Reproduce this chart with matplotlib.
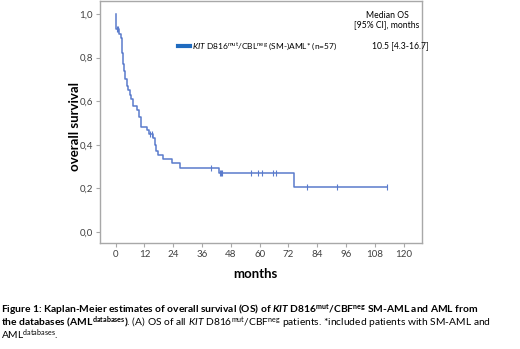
import numpy as np
import matplotlib
matplotlib.use('Agg')
import matplotlib.pyplot as plt
from matplotlib.lines import Line2D
from matplotlib.ticker import FuncFormatter

plt.rcParams['font.family'] = ['Lato', 'DejaVu Sans']
plt.rcParams['mathtext.fontset'] = 'custom'
plt.rcParams['mathtext.rm'] = 'Lato'
plt.rcParams['mathtext.it'] = 'Lato:italic'
plt.rcParams['mathtext.bf'] = 'Lato:bold'
plt.rcParams['mathtext.bfit'] = 'Lato:bold:italic'

# Kaplan-Meier curve: time (months) where survival steps to value
step_times = [0, 0.3, 1.5, 2.2, 2.6, 3.0, 3.5, 4.0, 4.6, 5.2, 5.8, 6.5, 7.2, 9.0,
              9.6, 10.5, 13.0, 14.0, 15.5, 16.3, 17.0, 17.7, 19.8, 23.6, 26.8,
              43.0, 74.3]
step_surv = [1.0, 0.93, 0.91, 0.89, 0.82, 0.77, 0.74, 0.70, 0.67, 0.65, 0.63,
             0.61, 0.58, 0.56, 0.53, 0.48, 0.47, 0.45, 0.43, 0.40, 0.37, 0.353,
             0.333, 0.315, 0.295, 0.272, 0.205]
end_time = 113.2
censor_times = [0.5, 1.2, 14.5, 15.0, 39.7, 43.5, 44.0, 44.4, 56.4, 59.4,
                60.8, 65.4, 66.7, 79.6, 92.0, 113.2]

x_ticks = list(range(0, 121, 12))
y_ticks = [0.0, 0.2, 0.4, 0.6, 0.8, 1.0]

W, H = 520, 349
fig = plt.figure(figsize=(W / 100, H / 100), dpi=100)
ax = fig.add_axes([100 / W, 1 - 243 / H, 322 / W, 242 / H])

curve_col = '#5a7bcc'
t = np.array(step_times + [end_time])
s = np.array(step_surv + [step_surv[-1]])
ax.step(t, s, where='post', color=curve_col, lw=1.1)

idx = np.searchsorted(step_times, censor_times, side='right') - 1
ax.plot(censor_times, np.array(step_surv)[idx], '|', color=curve_col, ms=5, mew=0.8)

ax.set_xlim(-6.5, 127.6)
ax.set_ylim(-0.05, 1.06)
ax.set_xticks(x_ticks)
ax.set_yticks(y_ticks)
ax.yaxis.set_major_formatter(FuncFormatter(lambda v, p: f'{v:.1f}'.replace('.', ',')))
for sp in ax.spines.values():
    sp.set_color('#a8a8a8')
    sp.set_linewidth(1.0)
ax.tick_params(length=3, width=0.8, color='#a8a8a8', labelsize=7, labelcolor='#404040', pad=2)

fig.text(75 / W, 1 - 127 / H, 'overall survival', rotation=90, ha='center', va='center',
         fontsize=9.5, fontweight='bold')
fig.text(255 / W, 1 - 274 / H, 'months', ha='center', va='center', fontsize=9.5, fontweight='bold')

# legend
fig.add_artist(Line2D([178 / W, 190 / W], [1 - 46 / H, 1 - 46 / H], color='#1f6bbf', lw=3,
                      transform=fig.transFigure))
fig.text(192 / W, 1 - 48.5 / H,
         r'$\mathit{KIT}$ D816$^{\mathrm{mut}}$/CBL$^{\mathrm{neg}}$ (SM-)AML* (n=57)',
         ha='left', va='baseline', fontsize=6.0)
fig.text(387 / W, 1 - 15 / H, 'Median OS', ha='center', va='center', fontsize=6.2)
fig.text(387 / W, 1 - 25 / H, '[95% CI], months', ha='center', va='center', fontsize=6.2)
fig.text(400 / W, 1 - 46 / H, '10.5 [4.3-16.7]', ha='center', va='center', fontsize=6.2)

# caption
cap = 7.4
fig.text(1 / W, 1 - 313 / H,
         r'Figure 1: Kaplan-Meier estimates of overall survival (OS) of $\mathbfit{KIT}$ '
         r'D816$^{\mathbf{mut}}$/CBF$^{\mathbf{neg}}$ SM-AML and AML from',
         ha='left', va='baseline', fontsize=cap, fontweight='bold')
fig.text(1 / W, 1 - 326 / H,
         r'$\mathbf{the\ databases\ (AML^{databases})}$. (A) OS of all $\mathit{KIT}$ '
         r'D816$^{\mathrm{mut}}$/CBF$^{\mathrm{neg}}$ patients. *included patients with SM-AML and',
         ha='left', va='baseline', fontsize=cap)
fig.text(1 / W, 1 - 339 / H, r'AML$^{\mathrm{databases}}$.', ha='left', va='baseline', fontsize=cap)

fig.savefig('out.png', dpi=100)
